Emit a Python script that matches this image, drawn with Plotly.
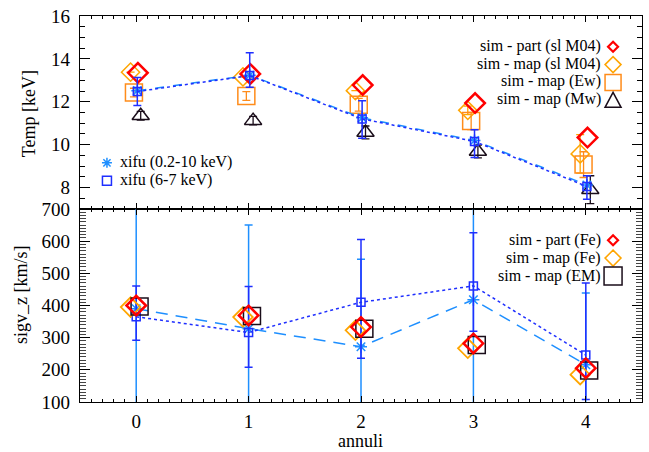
import plotly.graph_objects as go
from plotly.subplots import make_subplots

# ---------------- data ----------------
annuli = [0, 1, 2, 3, 4]
x_tick_labels = ["0", "1", "2", "3", "4"]

# Temperature panel [keV]
temp_part_slM04 = [13.35, 13.30, 12.78, 11.94, 10.33]
temp_map_slM04 = [13.38, 13.16, 12.52, 11.60, 9.57]
temp_map_slM04_err = [0.0, 0.0, 0.0, 0.2, 0.9]
temp_map_ew = [12.43, 12.27, 11.86, 11.10, 9.07]
temp_map_ew_err = [0.2, 0.2, 0.3, 0.4, 0.6]
temp_map_mw = [11.35, 11.12, 10.57, 9.68, 7.90]
temp_map_mw_err = [0.2, 0.2, 0.3, 0.3, 0.65]
temp_xifu_broad = [12.52, 13.24, 11.25, 10.19, 8.12]
temp_xifu_fe = [12.48, 13.22, 11.20, 10.15, 8.05]
temp_xifu_fe_err_plus = [0.65, 1.07, 0.85, 0.55, 0.50]
temp_xifu_fe_err_minus = [0.65, 0.54, 0.90, 0.75, 0.60]

# Velocity dispersion panel [km/s]
sig_part_fe = [400, 369, 333, 282, 205]
sig_map_fe = [395, 364, 323, 267, 185]
sig_map_em = [397, 367, 328, 277, 198]
sig_xifu_broad = [390, 328, 272, 418, 216]
sig_xifu_broad_err = [450, 322, 272, 330, 223]
sig_xifu_fe = [365, 316, 410, 461, 246]
sig_xifu_fe_err_plus = [96, 143, 195, 165, 224]
sig_xifu_fe_err_minus = [73, 108, 174, 141, 138]

# ---------------- style ----------------
FONT = "Liberation Serif"
RED = "#ff0000"
ORANGE = "#ffa500"
DKORANGE = "#ff8c1a"
BLACK = "#1a0d1a"
LBLUE = "#1e8fff"
DBLUE = "#1f2fff"


def shift(xs, d):
    return [v + d for v in xs]


fig = make_subplots(rows=2, cols=1, shared_xaxes=True, vertical_spacing=0)

# ---- top panel ----
fig.add_trace(go.Scatter(x=shift(annuli, -0.05), y=temp_map_slM04, mode="markers",
                         marker=dict(symbol="diamond-open", size=14, color=ORANGE, line=dict(width=1.5, color=ORANGE)),
                         error_y=dict(type="data", array=temp_map_slM04_err, color=ORANGE, thickness=1.3, width=4),
                         showlegend=False), row=1, col=1)
fig.add_trace(go.Scatter(x=shift(annuli, -0.02), y=temp_map_ew, mode="markers",
                         marker=dict(symbol="square-open", size=17, color=DKORANGE, line=dict(width=1.5, color=DKORANGE)),
                         error_y=dict(type="data", array=temp_map_ew_err, color=DKORANGE, thickness=1.3, width=4),
                         showlegend=False), row=1, col=1)
fig.add_trace(go.Scatter(x=shift(annuli, 0.04), y=temp_map_mw, mode="markers",
                         marker=dict(symbol="triangle-up-open", size=15, color=BLACK, line=dict(width=1.5, color=BLACK)),
                         error_y=dict(type="data", array=temp_map_mw_err, color=BLACK, thickness=1.3, width=4),
                         showlegend=False), row=1, col=1)
fig.add_trace(go.Scatter(x=shift(annuli, 0.015), y=temp_part_slM04, mode="markers",
                         marker=dict(symbol="diamond-open", size=15, color=RED, line=dict(width=2.5, color=RED)),
                         showlegend=False), row=1, col=1)
fig.add_trace(go.Scatter(x=shift(annuli, 0.01), y=temp_xifu_broad, mode="lines+markers",
                         line=dict(color=LBLUE, width=1.5, dash="dash"),
                         marker=dict(symbol="asterisk-open", size=10, color=LBLUE, line=dict(width=1.5, color=LBLUE)),
                         showlegend=False), row=1, col=1)
fig.add_trace(go.Scatter(x=shift(annuli, 0.01), y=temp_xifu_fe, mode="lines+markers",
                         line=dict(color=DBLUE, width=1.5, dash="dot"),
                         marker=dict(symbol="square-open", size=8, color=DBLUE, line=dict(width=1.5, color=DBLUE)),
                         error_y=dict(type="data", symmetric=False, array=temp_xifu_fe_err_plus,
                                      arrayminus=temp_xifu_fe_err_minus, color=DBLUE, thickness=1.5, width=4),
                         showlegend=False), row=1, col=1)

# ---- bottom panel ----
fig.add_trace(go.Scatter(x=shift(annuli, 0.0), y=sig_xifu_broad, mode="lines+markers",
                         line=dict(color=LBLUE, width=1.5, dash="12px,8px"),
                         marker=dict(symbol="asterisk-open", size=10, color=LBLUE, line=dict(width=1.5, color=LBLUE)),
                         error_y=dict(type="data", array=sig_xifu_broad_err, color=LBLUE, thickness=1.5, width=4),
                         showlegend=False), row=2, col=1)
fig.add_trace(go.Scatter(x=shift(annuli, 0.0), y=sig_xifu_fe, mode="lines+markers",
                         line=dict(color=DBLUE, width=1.5, dash="dot"),
                         marker=dict(symbol="square-open", size=8, color=DBLUE, line=dict(width=1.5, color=DBLUE)),
                         error_y=dict(type="data", symmetric=False, array=sig_xifu_fe_err_plus,
                                      arrayminus=sig_xifu_fe_err_minus, color=DBLUE, thickness=1.5, width=4),
                         showlegend=False), row=2, col=1)
fig.add_trace(go.Scatter(x=shift(annuli, -0.05), y=sig_map_fe, mode="markers",
                         marker=dict(symbol="diamond-open", size=15, color=ORANGE, line=dict(width=1.8, color=ORANGE)),
                         showlegend=False), row=2, col=1)
fig.add_trace(go.Scatter(x=shift(annuli, 0.03), y=sig_map_em, mode="markers",
                         marker=dict(symbol="square-open", size=17, color=BLACK, line=dict(width=1.5, color=BLACK)),
                         showlegend=False), row=2, col=1)
fig.add_trace(go.Scatter(x=shift(annuli, 0.0), y=sig_part_fe, mode="markers",
                         marker=dict(symbol="diamond-open", size=15, color=RED, line=dict(width=2.5, color=RED)),
                         showlegend=False), row=2, col=1)

# ---------------- axes ----------------
common = dict(showline=True, linecolor="black", linewidth=1.2, mirror="allticks",
              ticks="inside", tickcolor="black", showgrid=False, zeroline=False,
              tickfont=dict(family=FONT, size=19, color="black"))

fig.update_xaxes(range=[-0.5, 4.5], tickvals=annuli, ticktext=x_tick_labels, ticklen=6, tickwidth=1,
                 minor=dict(dtick=0.1, ticklen=3, tickcolor="black", ticks="inside", showgrid=False),
                 **common)
fig.update_xaxes(showticklabels=False, row=1, col=1)
fig.update_xaxes(ticklabelstandoff=2, row=2, col=1)

fig.update_yaxes(range=[7, 16], tickvals=[8, 10, 12, 14, 16], ticklen=10, tickwidth=1,
                 minor=dict(dtick=0.5, ticklen=5, tickcolor="black", ticks="inside", showgrid=False),
                 ticklabelstandoff=5, row=1, col=1, **common)
fig.update_yaxes(range=[100, 700], tickvals=[100, 200, 300, 400, 500, 600, 700], ticklen=10, tickwidth=1,
                 minor=dict(dtick=10, ticklen=6, tickcolor="#444444", ticks="inside", showgrid=False),
                 ticklabelstandoff=5, row=2, col=1, **common)

# ---------------- layout ----------------
W, H = 649, 452
ML, MR, MT, MB = 80, 6, 13, 50
PW, PH = W - ML - MR, H - MT - MB


def px(xpix):
    return (xpix - ML) / PW


def py(ypix):
    return (H - MB - ypix) / PH


ann = []
tf = dict(family=FONT, size=16, color="black")
# top legend (right side)
top_leg = [("sim - part (sl M04)", 43.5), ("sim - map (sl M04)", 61), ("sim - map (Ew)", 79), ("sim - map (Mw)", 97)]
for t, yy in top_leg:
    ann.append(dict(text=t, x=px(604), y=py(yy), xref="paper", yref="paper", xanchor="right", yanchor="middle",
                    showarrow=False, font=tf))
bot_leg = [("sim - part (Fe)", 238.5), ("sim - map (Fe)", 257), ("sim - map (EM)", 275.5)]
for t, yy in bot_leg:
    ann.append(dict(text=t, x=px(604), y=py(yy), xref="paper", yref="paper", xanchor="right", yanchor="middle",
                    showarrow=False, font=tf))
xifu_leg = [("xifu (0.2-10 keV)", 160), ("xifu (6-7 keV)", 178)]
for t, yy in xifu_leg:
    ann.append(dict(text=t, x=px(118), y=py(yy), xref="paper", yref="paper", xanchor="left", yanchor="middle",
                    showarrow=False, font=tf))
# axis titles
ann.append(dict(text="Temp [keV]", x=px(29), y=py(112), xref="paper", yref="paper", textangle=-90,
                xanchor="center", yanchor="middle", showarrow=False, font=dict(family=FONT, size=18, color="black")))
ann.append(dict(text="sigv_z [km/s]", x=px(21), y=py(294), xref="paper", yref="paper", textangle=-90,
                xanchor="center", yanchor="middle", showarrow=False, font=dict(family=FONT, size=18, color="black")))
ann.append(dict(text="annuli", x=px(361), y=py(441), xref="paper", yref="paper",
                xanchor="center", yanchor="middle", showarrow=False, font=dict(family=FONT, size=18, color="black")))


def sym(path, xpix, ypix, color, width):
    return dict(type="path", xref="paper", yref="paper", xsizemode="pixel", ysizemode="pixel",
                xanchor=px(xpix), yanchor=py(ypix), path=path, line=dict(color=color, width=width))


def diamond(h):
    return f"M 0 {h} L {h} 0 L 0 {-h} L {-h} 0 Z"


def square(h):
    return f"M {-h} {-h} L {h} {-h} L {h} {h} L {-h} {h} Z"


tri = "M -8 -7 L 8 -7 L 0 8 Z"
star = "M -5 0 L 5 0 M 0 -5 L 0 5 M -3.6 -3.6 L 3.6 3.6 M -3.6 3.6 L 3.6 -3.6"

shapes = [
    sym(diamond(5), 614, 44, RED, 2.2),
    sym(diamond(8), 614, 62, ORANGE, 1.5),
    sym(square(8), 614, 80, DKORANGE, 1.5),
    sym(tri, 614, 98, BLACK, 1.5),
    sym(diamond(5), 614, 239, RED, 2.2),
    sym(diamond(8), 614, 257, ORANGE, 1.5),
    sym(square(9), 614, 275, BLACK, 1.5),
    sym(star, 107, 161, LBLUE, 1.5),
    sym(square(4.5), 107, 179, DBLUE, 1.5),
]

fig.update_layout(width=W, height=H, margin=dict(l=ML, r=MR, t=MT, b=MB),
                  paper_bgcolor="white", plot_bgcolor="white",
                  font=dict(family=FONT, color="black"),
                  annotations=ann, shapes=shapes, showlegend=False)

fig.write_html("out.html")
